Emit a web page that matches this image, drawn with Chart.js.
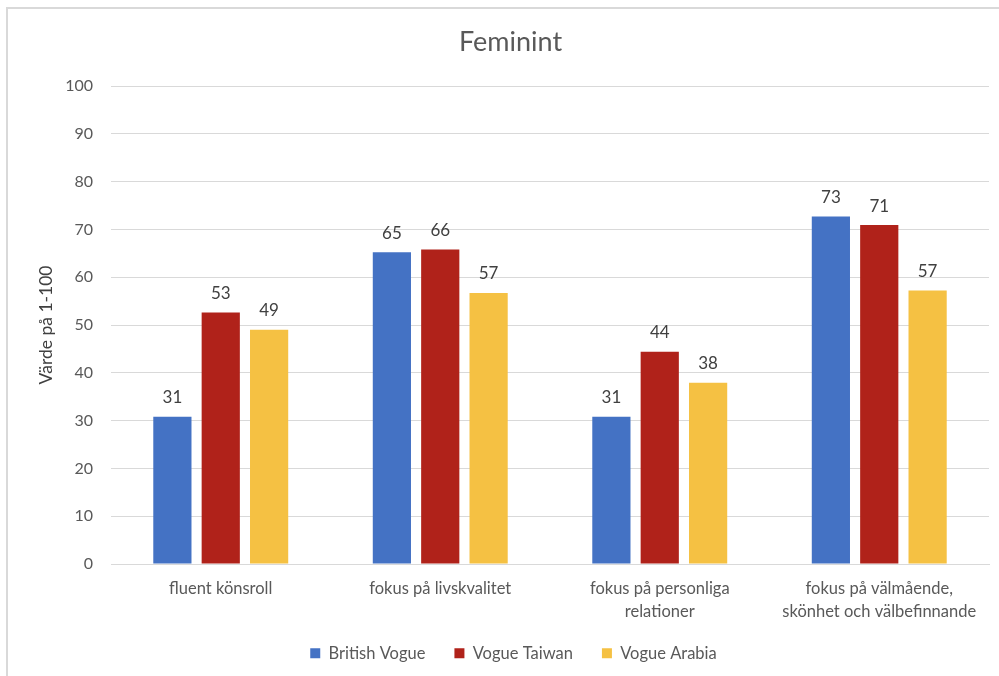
<!DOCTYPE html>
<html>
<head>
<meta charset="utf-8">
<title>Feminint</title>
<script src="https://cdn.jsdelivr.net/npm/chart.js@4.4.1/dist/chart.umd.min.js"></script>
<style>
  html, body { margin: 0; padding: 0; background: #fff; }
  #wrap { width: 999px; height: 676px; position: relative; }
</style>
</head>
<body>
<div id="wrap"><canvas id="feminintChart" width="999" height="676"></canvas></div>
<script>
// values (labels show them rounded)
const categories = [
    'fluent könsroll',
    'fokus på livskvalitet',
    ['fokus på personliga', 'relationer'],
    ['fokus på välmående,', 'skönhet och välbefinnande']
]
const britishVogue = [30.8, 65.2, 30.8, 72.7]
const vogueTaiwan = [52.6, 65.8, 44.4, 70.9]
const vogueArabia = [49.0, 56.7, 37.9, 57.2]
const yTicks = [0, 10, 20, 30, 40, 50, 60, 70, 80, 90, 100]

const textGrey = '#595959'
const fontName = 'Lato, "Open Sans", sans-serif'

// grey frame on the left and top, like the cropped office chart
const framePlugin = {
    id: 'frame',
    afterLayout(chart) {
        // the original is centred on a slightly wider frame that got cropped
        chart.titleBlock.left += 24
        chart.legend.left += 30
        // legend sits a bit closer to the axis labels
        chart.legend.top -= 8
        chart.legend.bottom -= 8
    },
    beforeDraw(chart) {
        const c = chart.ctx
        c.save()
        c.fillStyle = '#fff'
        c.fillRect(0, 0, chart.width, chart.height)
        c.strokeStyle = '#d9d9d9'
        c.lineWidth = 2
        c.beginPath()
        c.moveTo(7, chart.height)
        c.lineTo(7, 8)
        c.lineTo(chart.width, 8)
        c.stroke()
        c.restore()
    }
}

// numbers above the bars
const valueLabels = {
    id: 'valueLabels',
    afterDatasetsDraw(chart) {
        const c = chart.ctx
        c.save()
        c.font = '17px ' + fontName
        c.fillStyle = '#404040'
        c.textAlign = 'center'
        c.textBaseline = 'middle'
        chart.data.datasets.forEach(function(ds, i) {
            chart.getDatasetMeta(i).data.forEach(function(bar, j) {
                c.fillText(Math.round(ds.data[j]), bar.x, bar.y - 19)
            })
        })
        c.restore()
    }
}

const ctx = document.getElementById('feminintChart').getContext('2d')
const feminintChart = new Chart(ctx, {
    type: 'bar',
    data: {
        labels: categories,
        datasets: [
            { label: 'British Vogue', data: britishVogue, backgroundColor: '#4472C4' },
            { label: 'Vogue Taiwan', data: vogueTaiwan, backgroundColor: '#B0221A' },
            { label: 'Vogue Arabia', data: vogueArabia, backgroundColor: '#F5C143' }
        ]
    },
    options: {
        responsive: false,
        animation: false,
        devicePixelRatio: 1,
        layout: { padding: { left: 8, right: 10, top: 0, bottom: -3.5 } },
        datasets: {
            bar: { categoryPercentage: 0.661, barPercentage: 0.79 }
        },
        plugins: {
            title: {
                display: true,
                text: 'Feminint',
                color: textGrey,
                font: { family: fontName, size: 27, weight: 'normal' },
                padding: { top: 26, bottom: 27.6 }
            },
            legend: {
                position: 'bottom',
                labels: {
                    color: textGrey,
                    font: { family: fontName, size: 16.5 },
                    boxWidth: 10,
                    boxHeight: 10,
                    padding: 29
                }
            },
            tooltip: { enabled: false }
        },
        scales: {
            x: {
                grid: { display: false, drawTicks: false },
                border: { display: true, color: '#d9d9d9', width: 1 },
                ticks: {
                    color: textGrey,
                    font: { family: fontName, size: 16.5, lineHeight: 1.4 },
                    padding: 13.5,
                    maxRotation: 0,
                    autoSkip: false
                },
                afterFit(scale) { scale.height = 60 }
            },
            y: {
                min: 0,
                max: 100,
                afterBuildTicks(scale) {
                    scale.ticks = yTicks.map(function(v) { return { value: v } })
                },
                grid: { color: '#d9d9d9', lineWidth: 1, drawTicks: false },
                border: { display: false },
                ticks: {
                    color: textGrey,
                    font: { family: fontName, size: 16 },
                    padding: 18
                },
                title: {
                    display: true,
                    text: 'Värde på 1-100',
                    color: '#404040',
                    font: { family: fontName, size: 17.5 },
                    padding: { top: 28, bottom: 0 }
                },
                afterFit(scale) { scale.width = 103 }
            }
        }
    },
    plugins: [framePlugin, valueLabels]
})
</script>
</body>
</html>
